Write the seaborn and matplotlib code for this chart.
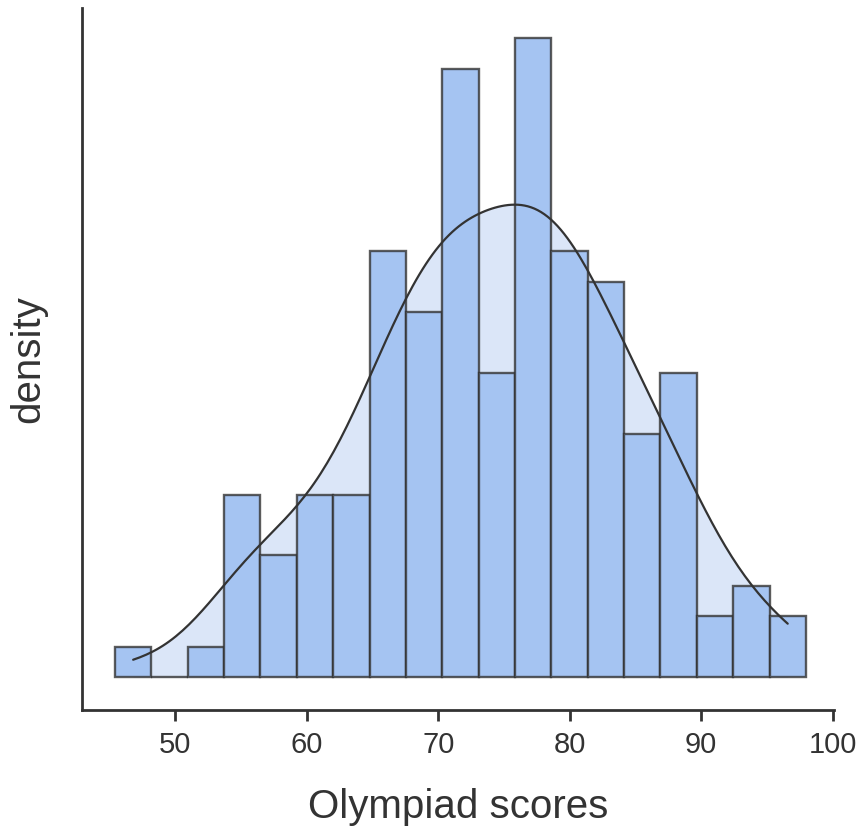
import numpy as np
import pandas as pd
import matplotlib
matplotlib.use("Agg")
import matplotlib.pyplot as plt
import seaborn as sns

# Histogram: 19 bins from ~45.4 to ~98.0
bin_start = 45.41
bin_width = 2.766
counts = [1, 0, 1, 6, 4, 6, 6, 14, 12, 20, 10, 21, 14, 13, 8, 10, 2, 3, 2]

edges = bin_start + bin_width * np.arange(len(counts) + 1)
df = pd.DataFrame({'score': (edges[:-1] + edges[1:]) / 2, 'n': counts})
total = sum(counts) * bin_width  # count -> density factor

sns.set_style("white")
plt.rcParams['font.family'] = ['Liberation Sans', 'DejaVu Sans']

fig = plt.figure(figsize=(8.62, 8.30), dpi=100)
ax = fig.add_axes([0.0951, 0.1446, 0.8724, 0.8458])

bw = 0.6
# density curve behind the bars, light fill
sns.kdeplot(data=df, x='score', weights='n', bw_adjust=bw, cut=0, fill=True,
            color='#dbe6f8', alpha=1, linewidth=0, ax=ax)
sns.histplot(data=df, x='score', weights='n', binwidth=bin_width,
             binrange=(edges[0], edges[-1]), stat='density',
             color='#a5c4f2', alpha=1, edgecolor=(0.2, 0.2, 0.2, 0.8),
             linewidth=1.7, ax=ax)
sns.kdeplot(data=df, x='score', weights='n', bw_adjust=bw, cut=0,
            color='#333333', linewidth=1.6, ax=ax)

ax.set_xlim(42.9, 100.1)
ax.set_ylim(-1.085 / total, 22.0 / total)
ax.set_xticks([50, 60, 70, 80, 90, 100])
ax.set_yticks([])
ax.tick_params(axis='x', bottom=True, length=8, width=2, color='#333333',
               labelsize=21, labelcolor='#333333', pad=7)
ax.set_xlabel('Olympiad scores', fontsize=29, color='#333333', labelpad=21)
ax.set_ylabel('density', fontsize=29, color='#333333', labelpad=25)

for side in ['top', 'right']:
    ax.spines[side].set_visible(False)
for side in ['left', 'bottom']:
    ax.spines[side].set_color('#333333')
    ax.spines[side].set_linewidth(2)

fig.savefig('out.png', dpi=100)
